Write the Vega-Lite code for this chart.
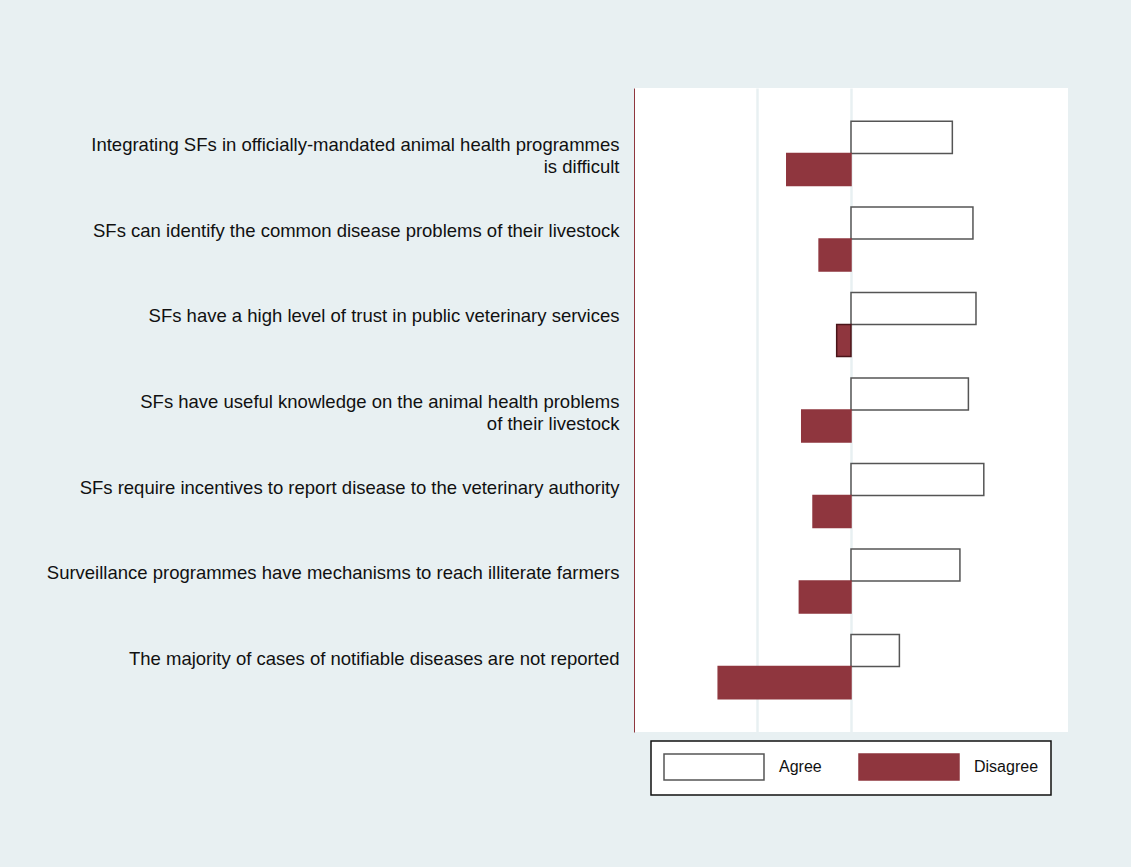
{
  "$schema": "https://vega.github.io/schema/vega-lite/v6.json",
  "width": 434,
  "height": 644,
  "autosize": {"type": "none"},
  "padding": {"left": 634, "top": 88, "right": 63, "bottom": 135},
  "background": "#e8f0f2",
  "config": {
    "view": {"fill": "white", "stroke": null},
    "font": "Liberation Sans",
    "legend": {"strokeWidth": 1.5}
  },
  "data": {
    "values": [
      {"statement": "Integrating SFs in officially-mandated animal health programmes\nis difficult", "type": "Agree", "value": 46.7},
      {"statement": "Integrating SFs in officially-mandated animal health programmes\nis difficult", "type": "Disagree", "value": -29.6},
      {"statement": "SFs can identify the common disease problems of their livestock", "type": "Agree", "value": 56.2},
      {"statement": "SFs can identify the common disease problems of their livestock", "type": "Disagree", "value": -14.7},
      {"statement": "SFs have a high level of trust in public veterinary services", "type": "Agree", "value": 57.6},
      {"statement": "SFs have a high level of trust in public veterinary services", "type": "Disagree", "value": -6.6},
      {"statement": "SFs have useful knowledge on the animal health problems\nof their livestock", "type": "Agree", "value": 54.1},
      {"statement": "SFs have useful knowledge on the animal health problems\nof their livestock", "type": "Disagree", "value": -22.7},
      {"statement": "SFs require incentives to report disease to the veterinary authority", "type": "Agree", "value": 61.2},
      {"statement": "SFs require incentives to report disease to the veterinary authority", "type": "Disagree", "value": -17.5},
      {"statement": "Surveillance programmes have mechanisms to reach illiterate farmers", "type": "Agree", "value": 50.2},
      {"statement": "Surveillance programmes have mechanisms to reach illiterate farmers", "type": "Disagree", "value": -23.8},
      {"statement": "The majority of cases of notifiable diseases are not reported", "type": "Agree", "value": 22.3},
      {"statement": "The majority of cases of notifiable diseases are not reported", "type": "Disagree", "value": -61.2}
    ]
  },
  "mark": {"type": "bar", "strokeWidth": 1.5},
  "encoding": {
    "y": {
      "field": "statement",
      "type": "nominal",
      "sort": null,
      "scale": {"paddingInner": 0.25, "paddingOuter": 0.39},
      "axis": {
        "title": null,
        "ticks": false,
        "grid": false,
        "domainColor": "#8f363e",
        "domainWidth": 1,
        "labelFont": "Liberation Sans",
        "labelFontSize": 18.5,
        "labelColor": "#111111",
        "labelPadding": 15,
        "labelLimit": 700,
        "labelOffset": -8,
        "labelLineHeight": 22,
        "labelExpr": "split(datum.label, '\\n')"
      }
    },
    "yOffset": {"field": "type", "type": "nominal", "sort": ["Agree", "Disagree"], "scale": {"paddingInner": 0, "paddingOuter": 0}},
    "x": {
      "field": "value",
      "type": "quantitative",
      "scale": {"domain": [-100, 100], "nice": false, "zero": false},
      "axis": {
        "title": null,
        "labels": false,
        "ticks": false,
        "domain": false,
        "grid": true,
        "gridColor": "#e8f0f2",
        "gridWidth": 2.5,
        "values": [-43.3, 0]
      }
    },
    "fill": {
      "field": "type",
      "type": "nominal",
      "scale": {"domain": ["Agree", "Disagree"], "range": ["#ffffff", "#8f363e"]},
      "legend": {
        "title": null,
        "orient": "none",
        "legendX": 17,
        "legendY": 653,
        "direction": "horizontal",
        "columns": 2,
        "columnPadding": 34,
        "fillColor": "white",
        "strokeColor": "#111111",
        "padding": 12,
        "symbolType": "M-1,-1L6.692,-1L6.692,1L-1,1Z",
        "symbolSize": 676,
        "symbolStrokeWidth": 1.5,
        "labelOffset": 88,
        "labelFont": "Liberation Sans",
        "labelFontSize": 16,
        "labelColor": "#111111"
      }
    },
    "stroke": {
      "condition": {"test": "datum.value < 0 && datum.value > -10", "value": "#4a1419"},
      "field": "type",
      "type": "nominal",
      "scale": {"domain": ["Agree", "Disagree"], "range": ["#555555", "#8f363e"]},
      "legend": null
    }
  }
}
